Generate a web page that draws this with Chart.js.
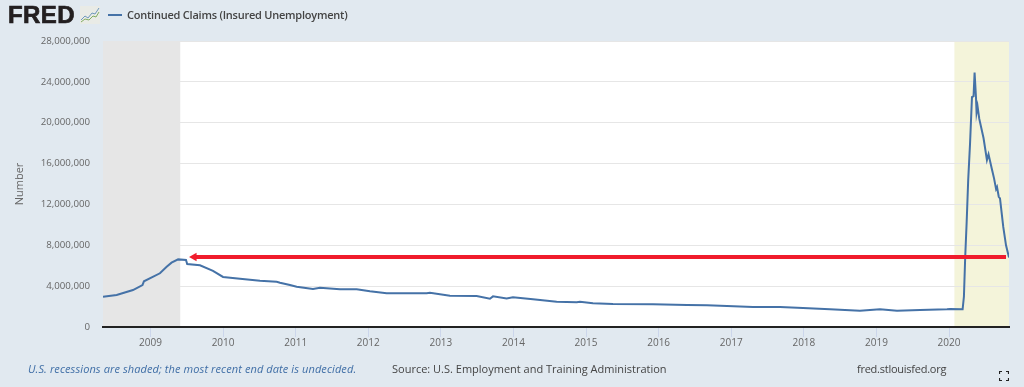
<!DOCTYPE html>
<html>
<head>
<meta charset="utf-8">
<title>Continued Claims (Insured Unemployment)</title>
<script src="https://cdn.jsdelivr.net/npm/chart.js@4"></script>
<style>
	html, body { margin: 0; padding: 0; background: #e1e9f0; }
	#page { position: relative; width: 1024px; height: 387px; overflow: hidden; font-family: "Open Sans", sans-serif; }
	#page div, #page svg { position: absolute; white-space: nowrap; }
	#chart { position: absolute; left: 0; top: 0; }
	#logo { left: 8px; top: -1px; font: bold 24px/32px "Liberation Sans", sans-serif; letter-spacing: 0.4px; -webkit-text-stroke: 0.7px #231f20; color: #231f20; }
	#legend-line { left: 108px; top: 14px; width: 14px; height: 2px; background: #4572a7; }
	#legend-text { left: 127px; top: 7px; font-size: 11px; line-height: 16px; font-weight: 600; letter-spacing: -0.23px; color: #444; }
	.foot { top: 361px; font-size: 11px; line-height: 16px; color: #444; }
	#note { left: 28px; font-style: italic; letter-spacing: 0.1px; color: #3f6ea6; }
	#source { left: 392px; }
	#site { left: 857px; letter-spacing: -0.25px; }
</style>
</head>
<body>
<div id="page">
	<canvas id="chart" width="1024" height="387"></canvas>
	<div id="logo">FRED</div>
	<svg style="left:80px;top:6px" width="20" height="18" viewBox="0 0 20 18">
		<rect width="20" height="18" fill="#e9ebe6"/>
		<polyline points="1,14 5,10 8,12 12,7 15,8 19,2" fill="none" stroke="#6f98bd" stroke-width="1"/>
		<polyline points="1,16 5,13 9,14 13,10 16,11 19,6" fill="none" stroke="#83ad62" stroke-width="1"/>
	</svg>
	<div id="legend-line"></div>
	<div id="legend-text">Continued Claims (Insured Unemployment)</div>
	<div id="note" class="foot">U.S. recessions are shaded; the most recent end date is undecided.</div>
	<div id="source" class="foot">Source: U.S. Employment and Training Administration</div>
	<div id="site" class="foot">fred.stlouisfed.org</div>
	<svg style="left:999px;top:371px" width="10" height="10" viewBox="0 0 10 10">
		<path d="M0.5 3V0.5H3M7 0.5H9.5V3M0.5 7V9.5H3M7 9.5H9.5V7" fill="none" stroke="#222" stroke-width="1.2"/>
	</svg>
</div>

<script>
var seriesName = "Continued Claims (Insured Unemployment)";

// decimal years
var claimYears = [
	2008.346, 2008.534, 2008.759, 2008.890, 2008.910, 2009.130, 2009.223, 2009.290, 2009.381, 2009.489,
	2009.506, 2009.682, 2009.861, 2009.999, 2010.233, 2010.508, 2010.738, 2010.784, 2010.921, 2011.014,
	2011.238, 2011.335, 2011.610, 2011.840, 2012.023, 2012.253, 2012.804, 2012.850, 2013.125, 2013.493,
	2013.676, 2013.718, 2013.906, 2013.993, 2014.269, 2014.595, 2014.871, 2014.916, 2015.095, 2015.370,
	2015.921, 2016.390, 2016.665, 2016.941, 2017.299, 2017.671, 2017.988, 2018.360, 2018.773, 2019.049,
	2019.283, 2019.600, 2019.972, 2020.014, 2020.187, 2020.205, 2020.223, 2020.243, 2020.264, 2020.289,
	2020.316, 2020.338, 2020.352, 2020.371, 2020.379, 2020.393, 2020.416, 2020.475, 2020.522, 2020.544,
	2020.589, 2020.620, 2020.648, 2020.661, 2020.685, 2020.702, 2020.747, 2020.785, 2020.826
];

var claimValues = [
	2970000, 3130000, 3620000, 4110000, 4470000, 5260000, 5900000, 6300000, 6620000, 6560000,
	6170000, 6040000, 5500000, 4900000, 4730000, 4530000, 4430000, 4340000, 4110000, 3950000,
	3720000, 3850000, 3690000, 3690000, 3490000, 3300000, 3300000, 3350000, 3070000, 3030000,
	2770000, 3000000, 2800000, 2920000, 2710000, 2480000, 2420000, 2480000, 2320000, 2250000,
	2220000, 2150000, 2130000, 2060000, 1960000, 1960000, 1860000, 1730000, 1600000, 1730000,
	1600000, 1660000, 1730000, 1760000, 1730000, 2970000, 6900000, 10300000, 14400000, 17900000,
	22500000, 22600000, 24900000, 22500000, 21000000, 21600000, 20400000, 18500000, 16350000, 16900000,
	15500000, 14550000, 13500000, 13700000, 12750000, 12600000, 9800000, 8000000, 6800000
];

var arrowYears = [2009.6, 2020.785];
var arrowValues = [6850000, 6850000];

var recessionStart = [2008.346, 2020.074];
var recessionEnd = [2009.41, 2020.826];
var recessionColors = ["#e6e6e6", "#f4f4da"];

var yearTicks = [2009, 2010, 2011, 2012, 2013, 2014, 2015, 2016, 2017, 2018, 2019, 2020];
var valueTicks = [0, 4000000, 8000000, 12000000, 16000000, 20000000, 24000000, 28000000];

function toPoints(xs, ys) {
	return xs.map(function (x, i) {
		return {x: x, y: ys[i]};
	});
}

// white plot background and the recession bands, under the grid lines
var recessionBands = {
	id: "recessionBands",
	beforeDraw: function (chart) {
		var ctx = chart.ctx,
			area = chart.chartArea,
			xS = chart.scales.x;

		ctx.save();
		ctx.fillStyle = "#ffffff";
		ctx.fillRect(area.left, area.top, area.right - area.left, area.bottom - area.top);
		for (var i = 0; i < recessionStart.length; i++) {
			var x0 = xS.getPixelForValue(recessionStart[i]),
				x1 = xS.getPixelForValue(recessionEnd[i]);
			ctx.fillStyle = recessionColors[i];
			ctx.fillRect(x0, area.top, x1 - x0, area.bottom - area.top);
		}
		ctx.restore();
	}
};

new Chart(document.getElementById("chart"), {
	type: "line",
	plugins: [recessionBands],
	data: {
		datasets: [{
			label: seriesName,
			data: toPoints(claimYears, claimValues),
			borderColor: "#4572a7",
			borderWidth: 2,
			pointRadius: 0,
			tension: 0,
			order: 2
		}, {
			label: "Arrow",
			data: toPoints(arrowYears, arrowValues),
			borderColor: "#f01c2c",
			backgroundColor: "#f01c2c",
			borderWidth: 4,
			pointStyle: "triangle",
			pointRotation: -90,
			pointRadius: [5, 0],
			pointBorderWidth: 0,
			tension: 0,
			order: 1
		}]
	},
	options: {
		responsive: false,
		animation: false,
		layout: {padding: {top: 41, right: 15, left: 0, bottom: 0}},
		plugins: {
			legend: {display: false},
			tooltip: {enabled: false}
		},
		scales: {
			x: {
				type: "linear",
				min: 2008.346,
				max: 2020.826,
				afterBuildTicks: function (axis) {
					axis.ticks = yearTicks.map(function (v) {
						return {value: v};
					});
				},
				afterFit: function (axis) {
					axis.height = 60;
				},
				ticks: {
					autoSkip: false,
					maxRotation: 0,
					padding: 0,
					color: "#666",
					font: {family: "'Open Sans', sans-serif", size: 10},
					callback: function (v) {
						return String(v);
					}
				},
				grid: {
					drawOnChartArea: false,
					drawTicks: true,
					tickLength: 10,
					color: "#ccd6eb"
				},
				border: {display: true, color: "#222", width: 2}
			},
			y: {
				min: 0,
				max: 28000000,
				afterBuildTicks: function (axis) {
					axis.ticks = valueTicks.map(function (v) {
						return {value: v};
					});
				},
				afterFit: function (axis) {
					axis.width = 103;
				},
				title: {
					display: true,
					text: "Number",
					color: "#666",
					font: {family: "'Open Sans', sans-serif", size: 11},
					padding: {top: 13, bottom: 0}
				},
				ticks: {
					padding: 13,
					color: "#666",
					font: {family: "'Open Sans', sans-serif", size: 9.7},
					callback: function (v) {
						return v.toLocaleString("en-US");
					}
				},
				grid: {
					color: "#e6e6e6",
					lineWidth: 1,
					drawTicks: false
				},
				border: {display: false}
			}
		}
	}
});
</script>
</body>
</html>
